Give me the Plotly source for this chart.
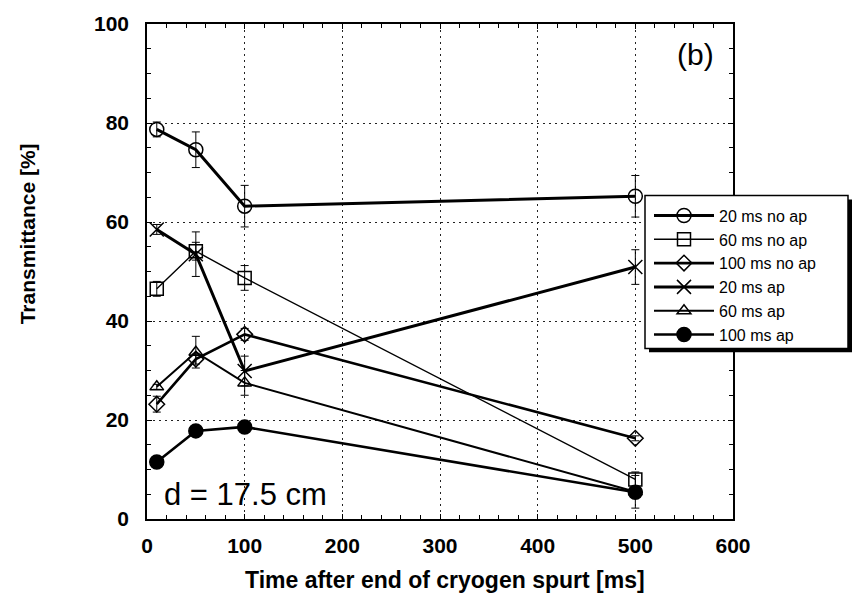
import plotly.graph_objects as go

# ---- data ----
time_ms = [10, 50, 100, 500]

names = ["20 ms no ap", "60 ms no ap", "100 ms no ap", "20 ms ap", "60 ms ap", "100 ms ap"]
t_20_noap = [78.7, 74.6, 63.2, 65.2]
t_60_noap = [46.5, 54.1, 48.7, 8.0]
t_100_noap = [23.2, 32.3, 37.3, 16.3]
t_20_ap = [58.5, 53.5, 29.9, 50.9]
t_60_ap = [26.7, 33.7, 27.5, 5.5]
t_100_ap = [11.5, 17.8, 18.6, 5.4]

e_20_noap = [1.5, 3.6, 4.2, 4.2]
e_60_noap = [1.5, 1.8, 2.5, 1.5]
e_100_noap = [1.6, 1.0, 1.2, 0.5]
e_20_ap = [1.0, 4.5, 3.0, 3.5]
e_60_ap = [0.5, 3.2, 2.5, 3.3]
e_100_ap = [0.5, 0.5, 0.5, 0.5]

x_ticks = [0, 100, 200, 300, 400, 500, 600]
y_ticks = [0, 20, 40, 60, 80, 100]

series = [t_20_noap, t_60_noap, t_100_noap, t_20_ap, t_60_ap, t_100_ap]
errors = [e_20_noap, e_60_noap, e_100_noap, e_20_ap, e_60_ap, e_100_ap]
symbols = ["circle-open", "square-open", "diamond-open", "x-thin-open", "triangle-up-open", "circle"]
sizes = [14, 13, 12, 14, 12, 14]
lwidths = [3, 1.4, 2.6, 3, 2, 2.6]

FONT = "Liberation Sans, Arial, sans-serif"

fig = go.Figure()
for name, y, err, sym, sz, lw in zip(names, series, errors, symbols, sizes, lwidths):
    fig.add_trace(go.Scatter(
        x=time_ms, y=y, name=name, mode="lines+markers",
        line=dict(color="black", width=lw),
        marker=dict(symbol=sym, size=sz, color="black",
                    line=dict(color="black", width=1.5)),
        error_y=dict(type="data", array=err, visible=True,
                     color="black", thickness=1, width=4),
    ))

# plot area in px: left 147, right 733, top 20, bottom 519
W, H = 854, 610
L, R, T, B = 147, 733, 20, 519
pw, ph = R - L, B - T

def px(x):
    return (x - L) / pw

def py(y):
    return (B - y) / ph

# legend box + shadow
bx0, bx1, by0, by1 = 645, 848, 193, 347
sh = 4
fig.add_shape(type="rect", xref="paper", yref="paper", layer="above",
              x0=px(bx0 + sh), x1=px(bx1 + sh), y0=py(by1 + sh), y1=py(by0 + sh),
              fillcolor="black", line=dict(width=0))
fig.add_shape(type="rect", xref="paper", yref="paper", layer="above",
              x0=px(bx0), x1=px(bx1), y0=py(by1), y1=py(by0),
              fillcolor="white", line=dict(color="black", width=1.5))

axis_common = dict(
    showline=True, linecolor="black", linewidth=1.5, mirror="allticks",
    ticks="inside", ticklen=5, tickwidth=1, tickcolor="black",
    showgrid=True, gridcolor="#222", griddash="2px,4px", gridwidth=1,
    zeroline=False,
    tickfont=dict(family=FONT, size=21, color="black", weight="bold"),
)

fig.update_xaxes(range=[0, 600], tickvals=x_ticks, ticklabelstandoff=7,
                 minor=dict(dtick=20, ticks="inside", ticklen=4, tickcolor="black", showgrid=False),
                 **axis_common)
fig.update_yaxes(range=[0, 100], tickvals=y_ticks, ticklabelstandoff=12,
                 minor=dict(dtick=5, ticks="inside", ticklen=4, tickcolor="black", showgrid=False),
                 **axis_common)

fig.add_annotation(text="Transmittance [%]", xref="paper", yref="paper",
                   x=px(27), y=py(232), xanchor="center", yanchor="middle",
                   textangle=-90, showarrow=False,
                   font=dict(family=FONT, size=21, color="black", weight="bold"))
fig.add_annotation(text="Time after end of cryogen spurt [ms]", xref="paper", yref="paper",
                   x=px(445), y=py(580), xanchor="center", yanchor="middle", showarrow=False,
                   font=dict(family=FONT, size=23, color="black", weight="bold"))
fig.add_annotation(text="(b)", xref="paper", yref="paper",
                   x=px(695), y=py(51), xanchor="center", yanchor="middle", showarrow=False,
                   font=dict(family=FONT, size=30, color="black"))
fig.add_annotation(text="d = 17.5 cm", xref="paper", yref="paper",
                   x=px(162), y=py(494), xanchor="left", yanchor="middle", showarrow=False,
                   font=dict(family=FONT, size=31, color="black"))

fig.update_layout(
    width=W, height=H,
    margin=dict(l=L, r=W - R, t=T, b=H - B),
    paper_bgcolor="white", plot_bgcolor="white",
    showlegend=True,
    legend=dict(x=px(bx0 + 4), y=py(by0 + 3), xanchor="left", yanchor="top",
                bgcolor="rgba(0,0,0,0)", borderwidth=0, itemwidth=60,
                font=dict(family=FONT, size=16, color="black"),
                tracegroupgap=0),
)

fig.write_html("out.html")
